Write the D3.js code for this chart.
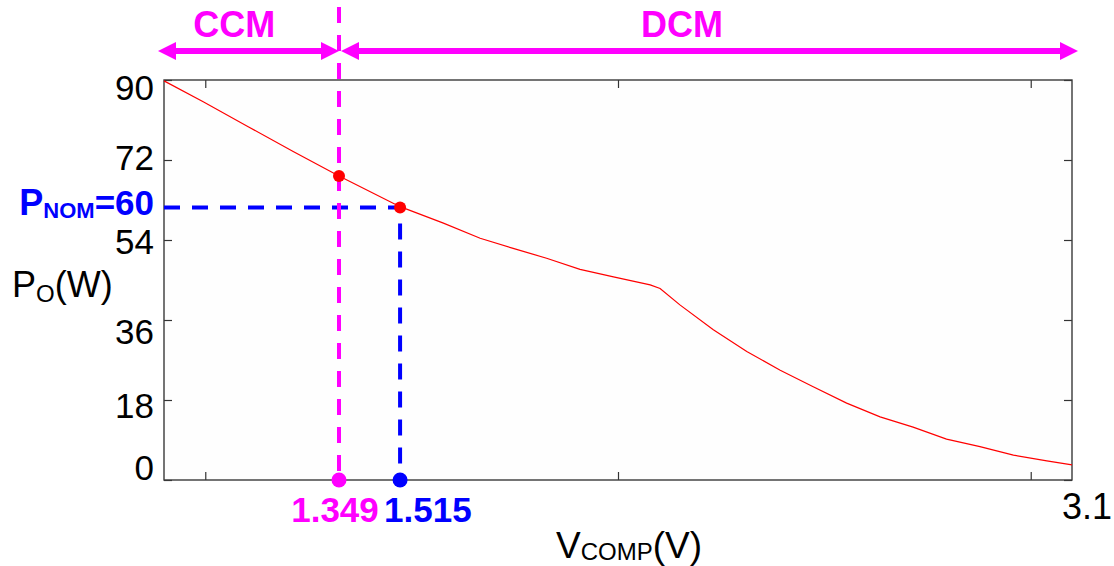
<!DOCTYPE html>
<html>
<head>
<meta charset="utf-8">
<script src="https://cdn.jsdelivr.net/npm/d3@7"></script>
<style>
  html, body { margin: 0; padding: 0; background: #fff; }
  svg { display: block; }
  text { font-family: Arial, "Liberation Sans", sans-serif; }
</style>
</head>
<body>
<svg id="chart" width="1114" height="566"></svg>
<script>
// ---- data ----
const vComp = [0.900, 0.995, 1.104, 1.213, 1.324, 1.472, 1.577, 1.666, 1.746, 1.827, 1.908, 1.989, 2.078, 2.102,
               2.150, 2.231, 2.312, 2.393, 2.473, 2.554, 2.635, 2.715, 2.796, 2.877, 2.958, 3.039, 3.100];
const pOut  = [89.8, 85.1, 79.5, 73.9, 68.4, 61.5, 57.8, 54.4, 52.1, 49.9, 47.4, 45.7, 43.9, 43.1,
               39.4, 33.8, 28.9, 24.7, 21.0, 17.3, 14.2, 11.9, 9.2, 7.5, 5.6, 4.3, 3.4];
const xDomain = [0.9, 3.1];
const yDomain = [0, 90];
const yTicks = [0, 18, 36, 54, 72, 90];
const xTicks = [1, 2, 3];
const xEndLabel = "3.1";
const ccmV = 1.324, ccmP = 68.4, ccmLabel = "1.349";
const nomV = 1.472, nomP = 61.3, nomLabel = "1.515";
const nomText = ["P", "NOM", "=60"];
const regionNames = ["CCM", "DCM"];
const regionLabelV = [1.07, 2.155];

// ---- layout ----
const svg = d3.select("#chart");
const L = 164, R = 1072, T = 80, B = 480;
const x = d3.scaleLinear().domain(xDomain).range([L, R]);
const y = d3.scaleLinear().domain(yDomain).range([B, T]);
const MAG = "#ff00ff", BLUE = "#0000ff", RED = "#ff0000";
// small vertical nudges of the y tick labels (as placed in the reference)
const yLabelNudge = [-13, 5, 11, 1, -3, 7];

svg.append("rect").attr("x", L).attr("y", T).attr("width", R - L).attr("height", B - T)
  .attr("fill", "#fefefe").attr("stroke", "none");

// axes with inward ticks
const gL = svg.append("g").attr("transform", `translate(${L},0)`)
  .call(d3.axisLeft(y).tickValues(yTicks).tickSize(-8).tickSizeOuter(0).tickPadding(10));
const gR = svg.append("g").attr("transform", `translate(${R},0)`)
  .call(d3.axisRight(y).tickValues(yTicks).tickSize(-8).tickSizeOuter(0).tickFormat(""));
const gB = svg.append("g").attr("transform", `translate(0,${B})`)
  .call(d3.axisBottom(x).tickValues(xTicks).tickSize(-8).tickSizeOuter(0).tickFormat(""));
const gT = svg.append("g").attr("transform", `translate(0,${T})`)
  .call(d3.axisTop(x).tickValues(xTicks).tickSize(-8).tickSizeOuter(0).tickFormat(""));
[gL, gR, gB, gT].forEach(g => {
  g.select(".domain").remove();
  g.selectAll(".tick line").attr("stroke", "#333").attr("stroke-width", 1.2);
});
gL.selectAll(".tick text").attr("font-size", 35).attr("fill", "#000")
  .attr("font-family", 'Arial, "Liberation Sans", sans-serif')
  .attr("dy", "0.36em")
  .attr("y", (d, i) => yLabelNudge[i]);

svg.append("rect").attr("x", L).attr("y", T).attr("width", R - L).attr("height", B - T)
  .attr("fill", "none").attr("stroke", "#3a3a3a").attr("stroke-width", 1.4);

// x end label
svg.append("text").attr("x", x(xDomain[1]) - 10).attr("y", 519)
  .attr("font-size", 36).attr("fill", "#000").text(xEndLabel);

// curve
const line = d3.line().x((d, i) => x(vComp[i])).y(d => y(d));
svg.append("path").attr("d", line(pOut)).attr("fill", "none")
  .attr("stroke", RED).attr("stroke-width", 1.2);

// nominal power guide (blue dashed)
svg.append("path")
  .attr("d", `M${L},${y(nomP)}H${x(nomV)}V${B}`)
  .attr("fill", "none").attr("stroke", BLUE).attr("stroke-width", 4)
  .attr("stroke-dasharray", "16,12");

// CCM/DCM boundary (magenta dashed)
svg.append("line").attr("x1", x(ccmV)).attr("x2", x(ccmV)).attr("y1", 7).attr("y2", B)
  .attr("stroke", MAG).attr("stroke-width", 4).attr("stroke-dasharray", "16,12");

// red points on curve
svg.selectAll("circle.pt").data([[ccmV, ccmP], [nomV, nomP]]).enter().append("circle")
  .attr("class", "pt").attr("cx", d => x(d[0])).attr("cy", d => y(d[1])).attr("r", 6).attr("fill", RED);

// points on x axis
svg.append("circle").attr("cx", x(ccmV)).attr("cy", B).attr("r", 7.5).attr("fill", MAG);
svg.append("circle").attr("cx", x(nomV)).attr("cy", B).attr("r", 7.5).attr("fill", BLUE);

// x labels for the points
svg.append("text").attr("x", x(ccmV) - 4).attr("y", 522).attr("text-anchor", "middle")
  .attr("font-size", 35).attr("font-weight", "bold").attr("fill", MAG).text(ccmLabel);
svg.append("text").attr("x", x(nomV) - 16).attr("y", 522).attr("text-anchor", "start")
  .attr("font-size", 35).attr("font-weight", "bold").attr("fill", BLUE).text(nomLabel);

// P_NOM label
const pn = svg.append("text").attr("x", L - 10).attr("y", y(nomP) + 7).attr("text-anchor", "end")
  .attr("font-weight", "bold").attr("fill", BLUE);
pn.append("tspan").attr("font-size", 36).text(nomText[0]);
pn.append("tspan").attr("font-size", 22).attr("dy", 3).text(nomText[1]);
pn.append("tspan").attr("font-size", 35).attr("dy", -3).text(nomText[2]);

// axis titles
const yt = svg.append("text").attr("x", 12).attr("y", 297).attr("fill", "#000");
yt.append("tspan").attr("font-size", 36).text("P");
yt.append("tspan").attr("font-size", 24).attr("dy", 5).text("O");
yt.append("tspan").attr("font-size", 36).attr("dy", -5).text("(W)");

const xt = svg.append("text").attr("x", 556).attr("y", 558).attr("fill", "#000");
xt.append("tspan").attr("font-size", 37).text("V");
xt.append("tspan").attr("font-size", 24).attr("dy", 2).text("COMP");
xt.append("tspan").attr("font-size", 37).attr("dy", -2).text("(V)");

// region arrows
const arrowY = 51, head = 18, half = 9, ext = 6;
const arrows = [[L - ext, x(ccmV)], [x(ccmV) + 2, R + ext]];
arrows.forEach(([a, b]) => {
  svg.append("line").attr("x1", a + head - 2).attr("x2", b - head + 2).attr("y1", arrowY).attr("y2", arrowY)
    .attr("stroke", MAG).attr("stroke-width", 6);
  svg.append("path").attr("d", `M${a},${arrowY}L${a + head},${arrowY - half}L${a + head},${arrowY + half}Z`).attr("fill", MAG);
  svg.append("path").attr("d", `M${b},${arrowY}L${b - head},${arrowY - half}L${b - head},${arrowY + half}Z`).attr("fill", MAG);
});
svg.selectAll("text.region").data(regionNames).enter().append("text").attr("class", "region")
  .attr("x", (d, i) => x(regionLabelV[i])).attr("y", 37).attr("text-anchor", "middle")
  .attr("font-size", 36).attr("font-weight", "bold").attr("fill", MAG).text(d => d);
</script>
</body>
</html>
